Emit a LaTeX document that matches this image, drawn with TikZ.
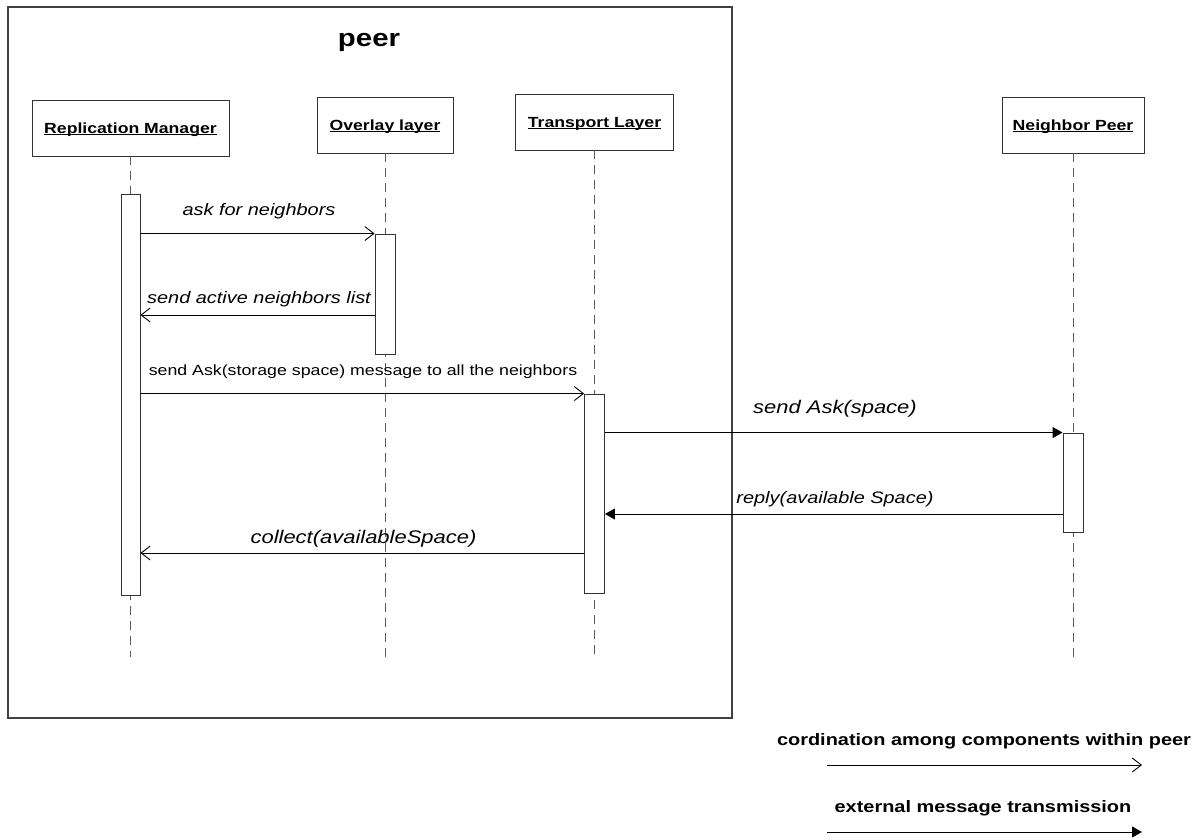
\documentclass[tikz,border=0pt]{standalone}
\usepackage{fontspec}
\setmainfont{Liberation Sans}
\usetikzlibrary{arrows.meta}
\newcommand\myul[1]{\setbox0\hbox{#1}\rlap{\rule[-2.3pt]{\wd0}{1pt}}\box0}
\begin{document}
\begin{tikzpicture}[x=1pt,y=-1pt,
  frame/.style={draw=black!75, line width=1.2pt},
  obj/.style={draw=black!80, line width=0.9pt, fill=white, inner sep=0pt},
  act/.style={draw=black!80, line width=0.9pt, fill=white, inner sep=0pt},
  life/.style={draw=black!65, line width=0.8pt, dash pattern=on 9pt off 6pt},
  intmsg/.style={draw=black, line width=0.9pt, -{Straight Barb[length=9pt,width=14pt,line width=0.9pt]}},
  extmsg/.style={draw=black, line width=0.9pt, -{Triangle[length=10pt,width=11pt]}},
  lbl/.style={anchor=base, inner sep=0pt, xscale=1.2},
  objfont/.style={font=\fontsize{14.7}{17}\selectfont\bfseries},
  itfont/.style={font=\fontsize{16.6}{20}\selectfont\itshape},
  bigit/.style={font=\fontsize{18.3}{22}\selectfont\itshape},
  upfont/.style={font=\fontsize{14.8}{18}\selectfont},
  legfont/.style={font=\fontsize{16.6}{20}\selectfont\bfseries}]
\useasboundingbox (0,0) rectangle (1200,839);

% peer frame
\draw[frame] (8,7) rectangle (732,718);
\node[lbl, font=\fontsize{24.5}{28}\selectfont\bfseries] (peer) at (369,46) {peer};

% object boxes
\node[obj, minimum width=197pt, minimum height=56pt] (rm) at (130.5,128) {};
\node[obj, minimum width=136pt, minimum height=56pt] (ov) at (385,125) {};
\node[obj, minimum width=158pt, minimum height=56pt] (tr) at (594.5,122) {};
\node[obj, minimum width=142pt, minimum height=56pt] (np) at (1073,125) {};
\node[lbl, objfont] (rmL) at ([yshift=-5pt]rm.center) {\myul{Replication Manager}};
\node[lbl, objfont] (ovL) at ([yshift=-5pt]ov.center) {\myul{Overlay layer}};
\node[lbl, objfont] (trL) at ([yshift=-5pt]tr.center) {\myul{Transport Layer}};
\node[lbl, objfont] (npL) at ([yshift=-5pt]np.center) {\myul{Neighbor Peer}};

% lifelines
\coordinate (rmEnd) at (130.5,657);
\coordinate (ovEnd) at (385,657);
\coordinate (trEnd) at (594.5,657);
\coordinate (npEnd) at (1073,657);
\draw[life] (rm.south) -- (rmEnd);
\draw[life] (ov.south) -- (ovEnd);
\draw[life] (tr.south) -- (trEnd);
\draw[life] (np.south) -- (npEnd);

% activations
\node[act, minimum width=19pt, minimum height=401pt] (rmA) at (130.5,394.5) {};
\node[act, minimum width=20pt, minimum height=120pt] (ovA) at (385,294) {};
\node[act, minimum width=20pt, minimum height=199pt] (trA) at (594.5,493.5) {};
\node[act, minimum width=20pt, minimum height=99pt] (npA) at (1073,482.5) {};

% messages
\draw[intmsg] (rmA.east |- ovA.north) -- (ovA.north west);
\node[lbl, itfont] (m1) at (259,215) {ask for neighbors};

\coordinate (m2s) at (ovA.west |- 0,315);
\coordinate (m2e) at (rmA.east |- 0,315);
\draw[intmsg] (m2s) -- (m2e);
\node[lbl, itfont] (m2) at (259,303) {send active neighbors list};

\draw[intmsg] (rmA.east |- trA.north) -- (trA.north west);
\node[lbl, upfont] (m3) at (363,375) {send Ask(storage space) message to all the neighbors};

\draw[extmsg] (trA.east |- npA.north) -- (npA.north west);
\node[lbl, bigit] (m4) at (835,413) {send Ask(space)};

\coordinate (m5s) at (npA.west |- 0,514);
\coordinate (m5e) at (trA.east |- 0,514);
\draw[extmsg] (m5s) -- (m5e);
\node[lbl, itfont] (m5) at (835,503) {reply(available Space)};

\coordinate (m6s) at (trA.west |- 0,553);
\coordinate (m6e) at (rmA.east |- 0,553);
\draw[intmsg] (m6s) -- (m6e);
\node[lbl, bigit] (m6) at (363.5,543) {collect(availableSpace)};

% legend
\node[lbl, legfont] (leg1) at (984,745) {cordination among components within peer};
\coordinate (l1s) at (827,765);
\coordinate (l1e) at (1142,765);
\draw[intmsg] (l1s) -- (l1e);
\node[lbl, legfont] (leg2) at (983,812) {external message transmission};
\coordinate (l2s) at (827,832);
\coordinate (l2e) at (1142,832);
\draw[extmsg] (l2s) -- (l2e);
\end{tikzpicture}
\end{document}
